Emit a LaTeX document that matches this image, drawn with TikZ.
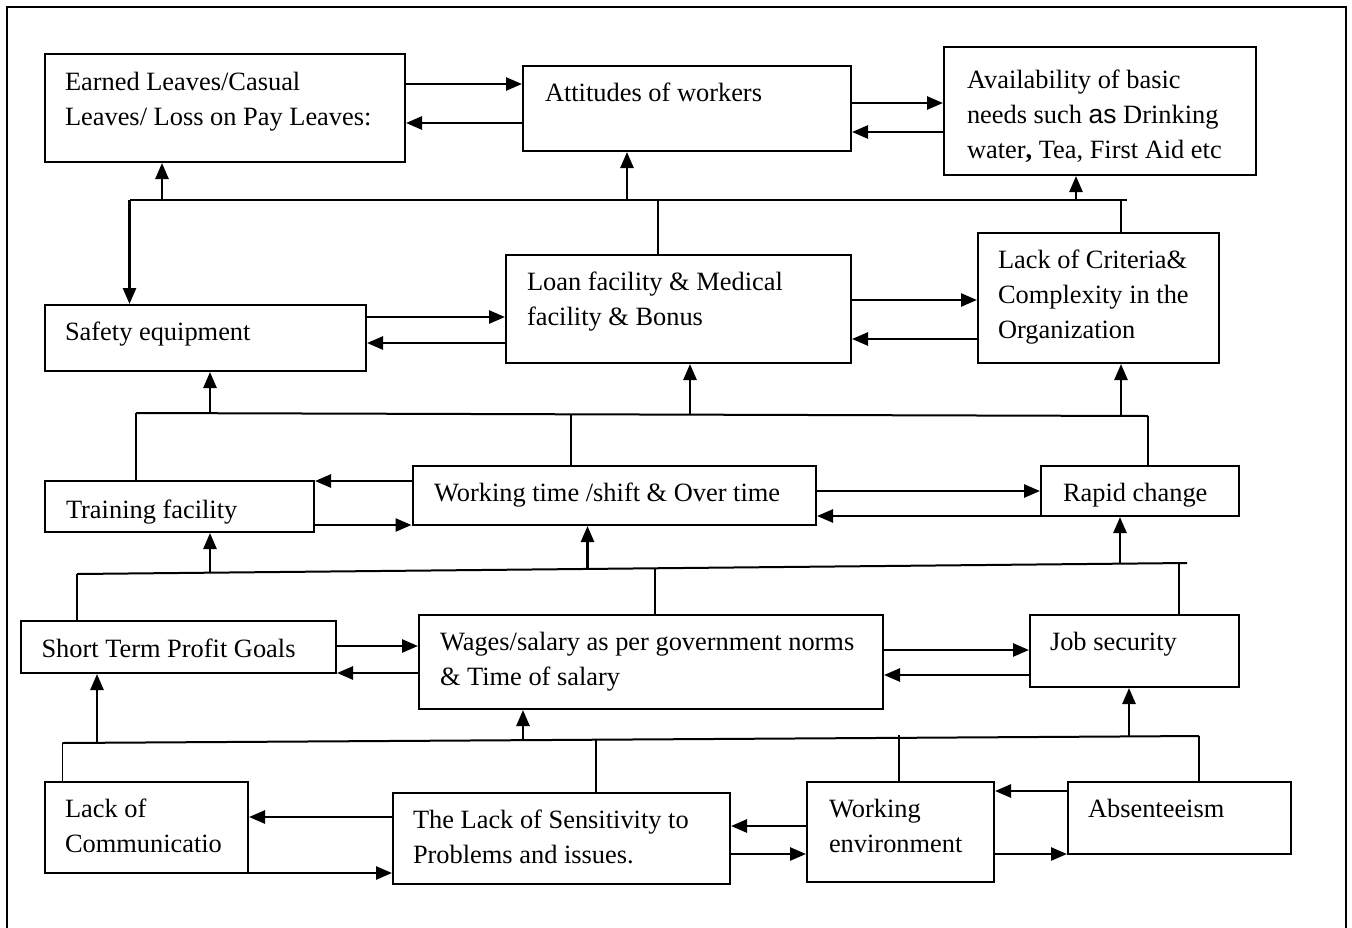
\documentclass[tikz,border=0pt]{standalone}
\usepackage{fontspec}
\setmainfont{Liberation Serif}
\newfontfamily\arialfont{Liberation Sans}
\usetikzlibrary{arrows.meta,fit}
\begin{document}
\begin{tikzpicture}[x=1pt,y=-1pt,
  box/.style={draw, line width=2pt, inner sep=0pt},
  txt/.style={anchor=north west, inner sep=0pt, outer sep=0pt, align=left, font=\fontsize{26.4}{35}\selectfont},
  arr/.style={line width=2.6pt, -{Triangle[length=16pt,width=13pt]}},
  bus/.style={line width=2pt},
  tie/.style={line width=1.6pt},
  frame/.style={line width=1.7pt}]
\useasboundingbox (0,0) rectangle (1352,927);
% outer frame
\coordinate (f1) at (6.7,930);
\coordinate (f2) at (6.7,6.7);
\coordinate (f3) at (1346,6.7);
\coordinate (f4) at (1346,930);
\draw[frame] (f1) -- (f2) -- (f3) -- (f4);
% boxes
\node[box, fit={(44.6,54) (405,162)}] (e) {};
\node[box, fit={(523,66) (851,151)}] (a) {};
\node[box, fit={(944,47) (1256,175)}] (v) {};
\node[box, fit={(44.6,305) (366,371)}] (s) {};
\node[box, fit={(506,255) (851,363)}] (l) {};
\node[box, fit={(978,233) (1219,363)}] (c) {};
\node[box, fit={(44.6,481) (314,532)}] (t) {};
\node[box, fit={(412.5,466) (816,525)}] (w) {};
\node[box, fit={(1041,466) (1239,516)}] (r) {};
\node[box, fit={(20.5,621) (336,673)}] (p) {};
\node[box, fit={(419,615) (883,709)}] (g) {};
\node[box, fit={(1030,615) (1239,687)}] (j) {};
\node[box, fit={(44.6,782) (248,873)}] (m) {};
\node[box, fit={(393,793) (730,884)}] (n) {};
\node[box, fit={(807,782) (994,882)}] (o) {};
\node[box, fit={(1068,782) (1291,854)}] (b) {};
% texts
\node[txt] (te) at (65,72) {Earned Leaves/Casual\\Leaves/ Loss on Pay Leaves:};
\node[txt] (ta) at (545,83) {Attitudes of workers};
\node[txt] (tv) at (967,70) {Availability of basic\\needs such {\arialfont as} Drinking\\water\textbf{,} Tea, First Aid etc};
\node[txt] (ts) at (65,322) {Safety equipment};
\node[txt] (tl) at (527,272) {Loan facility \& Medical\\facility \& Bonus};
\node[txt] (tc) at (998,250) {Lack of Criteria\&\\Complexity in the\\Organization};
\node[txt] (tt) at (66,500) {Training facility};
\node[txt] (tw) at (434,483) {Working time /shift \& Over time};
\node[txt] (tr) at (1063,483) {Rapid change};
\node[txt] (tp) at (41.5,639) {Short Term Profit Goals};
\node[txt] (tg) at (440,632) {Wages/salary as per government norms\\\& Time of salary};
\node[txt] (tj) at (1050,632) {Job security};
\node[txt] (tm) at (65,799) {Lack of\\Communicatio};
\node[txt] (tn) at (413,810) {The Lack of Sensitivity to\\Problems and issues.};
\node[txt] (to) at (829,799) {Working\\environment};
\node[txt] (tb) at (1088,799) {Absenteeism};
% horizontal two-way arrows
\draw[arr] (e.east |- 0,84) -- (a.west |- 0,84);
\draw[arr] (a.west |- 0,123) -- (e.east |- 0,123);
\draw[arr] (a.east |- 0,103) -- (v.west |- 0,103);
\draw[arr] (v.west |- 0,132) -- (a.east |- 0,132);
\draw[arr] (s.east |- 0,317) -- (l.west |- 0,317);
\draw[arr] (l.west |- 0,343) -- (s.east |- 0,343);
\draw[arr] (l.east |- 0,300) -- (c.west |- 0,300);
\draw[arr] (c.west |- 0,339) -- (l.east |- 0,339);
\draw[arr] (w.west |- 0,481) -- (t.east |- 0,481);
\draw[arr] (t.east |- 0,525) -- (w.west |- 0,525);
\draw[arr] (w.east |- 0,491) -- (r.west |- 0,491);
\draw[arr] (r.west |- 0,516) -- (w.east |- 0,516);
\draw[arr] (p.east |- 0,646) -- (g.west |- 0,646);
\draw[arr] (g.west |- 0,673) -- (p.east |- 0,673);
\draw[arr] (g.east |- 0,650) -- (j.west |- 0,650);
\draw[arr] (j.west |- 0,675) -- (g.east |- 0,675);
\draw[arr] (n.west |- 0,817) -- (m.east |- 0,817);
\draw[arr] (m.east |- 0,873) -- (n.west |- 0,873);
\draw[arr] (o.west |- 0,826) -- (n.east |- 0,826);
\draw[arr] (n.east |- 0,854) -- (o.west |- 0,854);
\draw[arr] (b.west |- 0,791) -- (o.east |- 0,791);
\draw[arr] (o.east |- 0,854) -- (b.west |- 0,854);
% bus 1
\coordinate (b1L) at (129.5,200);
\coordinate (b1R) at (1127,200);
\coordinate (b1a) at (162,200);
\coordinate (b1b) at (627,200);
\coordinate (b1c) at (658,200);
\coordinate (b1d) at (1076,200);
\coordinate (b1e) at (1121,200);
\draw[bus] (b1L) -- (b1R);
\draw[arr] (b1L) -- (b1L |- s.north);
\draw[arr] (b1a) -- (b1a |- e.south);
\draw[arr] (b1b) -- (b1b |- a.south);
\draw[arr] (b1d) -- (b1d |- v.south);
\draw[tie] (b1c) -- (b1c |- l.north);
\draw[tie] (b1e) -- (b1e |- c.north);
% bus 2
\coordinate (b2L) at (136,413);
\coordinate (b2R) at (1148,416);
\coordinate (b2a) at (210,413);
\coordinate (b2b) at (571,414);
\coordinate (b2c) at (690,414);
\coordinate (b2d) at (1121,416);
\draw[bus] (b2L) -- (b2R);
\draw[tie] (b2L) -- (b2L |- t.north);
\draw[tie] (b2R) -- (b2R |- r.north);
\draw[tie] (b2b) -- (b2b |- w.north);
\draw[arr] (b2a) -- (b2a |- s.south);
\draw[arr] (b2c) -- (b2c |- l.south);
\draw[arr] (b2d) -- (b2d |- c.south);
% bus 3
\coordinate (b3L) at (77,574);
\coordinate (b3R) at (1187,563);
\coordinate (b3a) at (210,573);
\coordinate (b3b) at (587.5,569);
\coordinate (b3c) at (655,568.5);
\coordinate (b3d) at (1120,564);
\coordinate (b3e) at (1179,563);
\draw[bus] (b3L) -- (b3R);
\draw[tie] (b3L) -- (b3L |- p.north);
\draw[tie] (b3c) -- (b3c |- g.north);
\draw[tie] (b3e) -- (b3e |- j.north);
\draw[arr] (b3a) -- (b3a |- t.south);
\draw[arr] (b3b) -- (b3b |- w.south);
\draw[arr] (b3d) -- (b3d |- r.south);
% bus 4
\coordinate (b4L) at (62.5,743);
\coordinate (b4R) at (1199,736);
\coordinate (b4a) at (97,743);
\coordinate (b4b) at (523,740.5);
\coordinate (b4c) at (596,740);
\coordinate (b4d) at (899,735);
\coordinate (b4e) at (1129,736.5);
\draw[bus] (b4L) -- (b4R);
\draw[tie] (b4L) -- (b4L |- m.north);
\draw[tie] (b4R) -- (b4R |- b.north);
\draw[tie] (b4c) -- (b4c |- n.north);
\draw[tie] (b4d) -- (b4d |- o.north);
\draw[arr] (b4a) -- (b4a |- p.south);
\draw[arr] (b4b) -- (b4b |- g.south);
\draw[arr] (b4e) -- (b4e |- j.south);
\end{tikzpicture}
\end{document}
